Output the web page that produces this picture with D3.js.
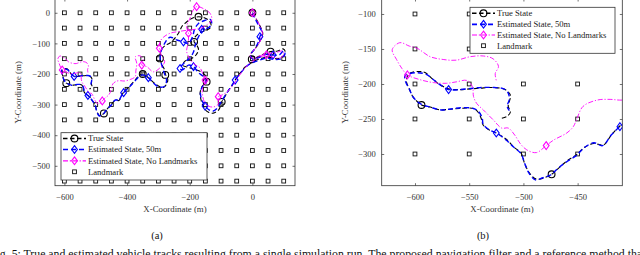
<!DOCTYPE html>
<html>
<head>
<meta charset="utf-8">
<script src="https://cdn.jsdelivr.net/npm/d3@7"></script>
<style>
  body { margin: 0; background: #fff; }
  svg { display: block; }
  text { font-family: "Liberation Serif", "DejaVu Serif", serif; }
</style>
</head>
<body>
<svg id="chart" width="640" height="255"></svg>
<script>
// landmark grid (m)
const landmarkX = [-600, -550, -500, -450, -400, -350, -300, -250, -200, -150, -100, -50, 0, 50, 100]
const landmarkY = [0, -50, -100, -150, -200, -250, -300, -350, -400, -450, -500, -550]

// tracks, [x, y] in metres
const trueTrack = [
  [0, 0], [12, -20], [25, -45], [33, -67], [28, -85], [20, -100], [8, -118], [-5, -135], [0, -150],
  [20, -143], [40, -133], [58, -127], [80, -125], [98, -118], [105, -128], [95, -145], [75, -150], [50, -145], [25, -150], [5, -158],
  [-10, -168], [-24, -178], [-35, -192], [-45, -205], [-55, -220], [-62, -233], [-72, -248], [-82, -263], [-90, -278], [-98, -291],
  [-102, -305], [-108, -318], [-125, -328], [-140, -325], [-152, -315], [-160, -298], [-165, -280], [-167, -262], [-160, -240], [-146, -225],
  [-150, -205], [-165, -192], [-185, -185], [-205, -178], [-222, -172], [-215, -158], [-195, -150], [-180, -138], [-172, -120], [-178, -105], [-186, -95],
  [-182, -78], [-165, -64], [-146, -57], [-132, -45], [-136, -28], [-152, -17], [-172, -13],
  [-192, -18], [-210, -30], [-225, -45], [-232, -60], [-245, -80], [-262, -98], [-280, -108], [-292, -125], [-295, -149],
  [-288, -170], [-280, -188], [-277, -202], [-270, -218], [-273, -231], [-284, -244], [-305, -236], [-332, -212], [-350, -200],
  [-362, -205], [-374, -220], [-392, -240], [-411, -260], [-419, -273], [-426, -287], [-435, -285], [-443, -290], [-451, -301], [-459, -309], [-466, -318], [-474, -329],
  [-479, -333], [-488, -336], [-494, -328], [-499, -313], [-502, -299], [-509, -290], [-515, -280], [-525, -270], [-531, -266], [-537, -259], [-539, -249], [-542, -240], [-546, -235],
  [-559, -235], [-568, -236], [-577, -237], [-586, -233], [-594, -230], [-598, -225], [-602, -218], [-605, -208], [-608, -195], [-605, -185],
  [-592, -183], [-583, -194], [-577, -201], [-569, -207], [-558, -208], [-549, -207], [-540, -206], [-528, -205], [-517, -208], [-512, -216],
  [-514, -232], [-512, -240], [-515, -246], [-520, -249]
]

const est50Track = [
  [0, 0], [10, -22], [22, -45], [30, -62], [24, -78], [18, -98], [6, -120], [-6, -138], [2, -152],
  [22, -146], [45, -136], [66, -138], [85, -138], [100, -124], [104, -134], [92, -150], [70, -153], [45, -148], [20, -156], [0, -163],
  [-15, -172], [-28, -185], [-40, -200], [-55, -220], [-66, -238], [-78, -256], [-90, -275], [-102, -295], [-112, -312], [-128, -322],
  [-151, -305], [-160, -288], [-166, -262], [-160, -242], [-148, -230],
  [-155, -210], [-172, -196], [-188, -176], [-204, -171], [-222, -186], [-231, -182], [-218, -164], [-200, -148], [-188, -128], [-182, -105],
  [-175, -85], [-165, -64], [-162, -54], [-142, -50], [-130, -36], [-134, -22], [-155, -26], [-172, -35], [-185, -55], [-190, -75],
  [-204, -100], [-220, -95], [-241, -89], [-263, -80], [-280, -100], [-292, -128], [-294, -152], [-288, -175], [-281, -198], [-274, -220],
  [-280, -240], [-300, -242], [-321, -224], [-332, -212], [-352, -203], [-374, -222], [-392, -242], [-411, -261],
  [-419, -273], [-427, -288], [-435, -284], [-444, -291], [-451, -302], [-459, -310], [-467, -319], [-475, -330], [-482, -334], [-489, -337],
  [-495, -327], [-499, -313], [-502, -300], [-509, -290], [-516, -280], [-525, -270], [-531, -266], [-537, -258], [-538, -249], [-541, -240],
  [-546, -235], [-558, -234], [-568, -236], [-577, -237], [-586, -233], [-594, -229], [-598, -225], [-602, -218], [-605, -208], [-609, -195],
  [-609, -188], [-600, -184], [-590, -186], [-582, -195], [-576, -202], [-569, -208], [-558, -208], [-547, -206], [-538, -205], [-527, -205],
  [-518, -207], [-514, -213], [-513, -222], [-515, -232], [-513, -238]
]

const noLmTrack = [
  [0, 0], [15, -25], [28, -50], [32, -70], [25, -92], [15, -110], [0, -128], [-8, -140], [0, -148],
  [25, -140], [51, -133], [75, -130], [95, -125], [100, -135], [88, -148], [65, -145], [40, -140], [15, -150],
  [-5, -162], [-22, -178], [-38, -200], [-52, -222], [-68, -245], [-85, -262], [-100, -270], [-109, -274], [-108, -290], [-110, -300],
  [-125, -308], [-140, -305], [-151, -296], [-158, -275], [-160, -250], [-151, -220],
  [-157, -204], [-167, -180], [-185, -168], [-200, -150], [-210, -125], [-205, -100], [-204, -67], [-210, -45], [-200, -20], [-189, 9],
  [-178, 20], [-157, 14], [-135, -2], [-130, -24], [-146, -40], [-167, -51], [-190, -55], [-215, -58], [-240, -62], [-263, -67],
  [-284, -80], [-295, -95], [-297, -116], [-290, -140], [-280, -160], [-295, -180], [-316, -193], [-337, -176], [-353, -171], [-348, -155],
  [-358, -141], [-374, -144], [-369, -165], [-372, -190], [-374, -209], [-390, -218], [-409, -223], [-420, -222], [-432, -223], [-445, -232],
  [-451, -251], [-454, -261], [-460, -270], [-472, -280], [-479, -288], [-488, -298], [-497, -294], [-503, -285], [-508, -273], [-514, -263],
  [-520, -263], [-528, -251], [-537, -237], [-543, -228], [-546, -218], [-547, -204], [-552, -195], [-562, -197], [-571, -199], [-583, -198],
  [-595, -194], [-607, -187], [-612, -178], [-617, -165], [-621, -151], [-614, -141], [-605, -146], [-598, -149], [-586, -161], [-574, -165],
  [-562, -166], [-549, -161], [-537, -160], [-528, -164], [-523, -175], [-526, -185], [-525, -195]
]

// marker positions along each track
const trueMarks = [[0, 0], [-2, -152], [58, -127], [-98, -291], [-146, -225], [-186, -95], [-172, -13], [-295, -149], [-278, -203], [-350, -200], [-474, -329], [-594, -230]]
const est50Marks = [[24, -78], [66, -138], [-55, -220], [-151, -305], [-188, -176], [-231, -182], [-162, -54], [-220, -95], [-332, -212], [-411, -261], [-525, -270], [-569, -208]]
const noLmMarks = [[0, 0], [45, -137], [-109, -274], [-151, -220], [-178, 20], [-204, -67], [-297, -116], [-353, -171], [-479, -288], [-607, -187]]

const legendLabels = ['True State', 'Estimated State, 50m', 'Estimated State, No Landmarks', 'Landmark']

const xTicksA = [-600, -400, -200, 0]
const yTicksA = [0, -100, -200, -300, -400, -500]
const xTicksB = [-600, -550, -500, -450]
const yTicksB = [-100, -150, -200, -250, -300]

const series = [
  { track: trueTrack, marks: trueMarks, color: '#000', dash: '4.5,2.5', width: 1.1, marker: 'circle' },
  { track: est50Track, marks: est50Marks, color: '#0000ff', dash: '5,3', width: 1.4, marker: 'diamond' },
  { track: noLmTrack, marks: noLmMarks, color: '#ff00ff', dash: '5,1.8,1.2,1.8', width: 0.9, marker: 'diamond' }
]

const panels = [
  { id: 'a', xDomain: [-630, 136], yDomain: [-565, 45], left: 55, right: 295, top: -1, bottom: 185.7,
    xTicks: xTicksA, yTicks: yTicksA, yPad: 5, ylabX: 18, tag: '(a)', tagX: 157,
    legend: { x: 61, y: 132.7, w: 146, h: 47.3, rows: [138.5, 149.5, 160.8, 171.8] } },
  { id: 'b', xDomain: [-630.7, -408.8], yDomain: [-345.3, -78.6], left: 381.7, right: 622.3, top: -1, bottom: 185.7,
    xTicks: xTicksB, yTicks: yTicksB, yPad: 6, ylabX: 345, tag: '(b)', tagX: 483,
    legend: { x: 470, y: 7.3, w: 145, h: 46, rows: [13.3, 24.3, 35, 45.7] } }
]

const svg = d3.select('#chart')

const diamond = (cx, cy) => `M${cx},${cy - 3.9}L${cx + 2.9},${cy}L${cx},${cy + 3.9}L${cx - 2.9},${cy}Z`

const drawMarker = (g, kind, cx, cy, color) => {
  if (kind === 'circle') {
    g.append('circle').attr('cx', cx).attr('cy', cy).attr('r', 3.4)
      .attr('fill', 'none').attr('stroke', color).attr('stroke-width', 1.1)
  } else {
    g.append('path').attr('d', diamond(cx, cy))
      .attr('fill', 'none').attr('stroke', color).attr('stroke-width', 1.1)
  }
}

const buildPanel = p => {
  const x = d3.scaleLinear().domain(p.xDomain).range([p.left, p.right])
  const y = d3.scaleLinear().domain(p.yDomain).range([p.bottom, p.top])

  svg.append('clipPath').attr('id', `clip-${p.id}`)
    .append('rect')
    .attr('x', p.left).attr('y', p.top)
    .attr('width', p.right - p.left).attr('height', p.bottom - p.top)

  const g = svg.append('g').attr('clip-path', `url(#clip-${p.id})`)

  const grid = landmarkX.flatMap(lx => landmarkY.map(ly => [lx, ly]))
  g.selectAll('rect.lm').data(grid)
    .enter().append('rect')
    .attr('class', 'lm')
    .attr('x', d => x(d[0]) - 1.9)
    .attr('y', d => y(d[1]) - 1.9)
    .attr('width', 3.8)
    .attr('height', 3.8)
    .attr('fill', 'none')
    .attr('stroke', '#111')
    .attr('stroke-width', 0.9)

  const line = d3.line()
    .x(d => x(d[0]))
    .y(d => y(d[1]))
    .curve(d3.curveCatmullRom.alpha(0.5))

  series.forEach(s => {
    g.append('path')
      .attr('d', line(s.track))
      .attr('fill', 'none')
      .attr('stroke', s.color)
      .attr('stroke-width', s.width)
      .attr('stroke-dasharray', s.dash)
    s.marks.forEach(m => drawMarker(g, s.marker, x(m[0]), y(m[1]), s.color))
  })

  // frame with inward ticks on all sides
  const ax = svg.append('g').attr('class', 'axes')
  const tickStyle = sel => {
    sel.select('.domain').remove()
    sel.selectAll('line').attr('stroke', '#333').attr('stroke-width', 0.7)
    sel.selectAll('text').attr('fill', '#333').style('font-size', '8.5px')
      .style('font-family', '"Liberation Serif", serif')
  }
  ax.append('g').attr('transform', `translate(0,${p.bottom})`)
    .call(d3.axisBottom(x).tickValues(p.xTicks).tickSize(-2.5).tickPadding(8))
    .call(tickStyle)
  ax.append('g').attr('transform', `translate(0,${p.top})`)
    .call(d3.axisTop(x).tickValues(p.xTicks).tickSize(-2.5).tickFormat(''))
    .call(tickStyle)
  ax.append('g').attr('transform', `translate(${p.left},0)`)
    .call(d3.axisLeft(y).tickValues(p.yTicks).tickSize(-2.5).tickPadding(p.yPad))
    .call(tickStyle)
  ax.append('g').attr('transform', `translate(${p.right},0)`)
    .call(d3.axisRight(y).tickValues(p.yTicks).tickSize(-2.5).tickFormat(''))
    .call(tickStyle)

  ax.append('rect')
    .attr('x', p.left).attr('y', p.top)
    .attr('width', p.right - p.left).attr('height', p.bottom - p.top)
    .attr('fill', 'none').attr('stroke', '#333').attr('stroke-width', 0.8)

  const cx = (p.left + p.right) / 2
  svg.append('text')
    .attr('x', cx).attr('y', 212)
    .attr('text-anchor', 'middle')
    .style('font-size', '8.8px').attr('fill', '#333')
    .text('X-Coordinate (m)')
  svg.append('text')
    .attr('transform', `translate(${p.ylabX},${(p.top + p.bottom) / 2}) rotate(-90)`)
    .attr('text-anchor', 'middle')
    .attr('dy', '0.35em')
    .style('font-size', '8.8px').attr('fill', '#333')
    .text('Y-Coordinate (m)')
  svg.append('text')
    .attr('x', p.tagX).attr('y', 238.5)
    .attr('text-anchor', 'middle')
    .style('font-size', '10.5px').attr('fill', '#111')
    .text(p.tag)

  // legend
  const lg = p.legend
  const leg = svg.append('g')
  leg.append('rect')
    .attr('x', lg.x).attr('y', lg.y).attr('width', lg.w).attr('height', lg.h)
    .attr('fill', '#fff').attr('stroke', '#333').attr('stroke-width', 0.8)
  legendLabels.forEach((label, i) => {
    const ry = lg.rows[i]
    const s = series[i]
    if (s) {
      leg.append('line')
        .attr('x1', lg.x + 2).attr('x2', lg.x + 25)
        .attr('y1', ry).attr('y2', ry)
        .attr('stroke', s.color).attr('stroke-width', s.width + 0.3)
        .attr('stroke-dasharray', s.dash)
      drawMarker(leg, s.marker, lg.x + 13.5, ry, s.color)
    } else {
      leg.append('rect')
        .attr('x', lg.x + 11.6).attr('y', ry - 1.9)
        .attr('width', 3.8).attr('height', 3.8)
        .attr('fill', 'none').attr('stroke', '#111').attr('stroke-width', 0.9)
    }
    leg.append('text')
      .attr('x', lg.x + 27).attr('y', ry)
      .attr('dy', '0.33em')
      .style('font-size', '8.6px').attr('fill', '#222')
      .text(label)
  })
}

panels.forEach(buildPanel)

// figure caption, cut by the bottom and side edges as in the source
svg.append('text')
  .attr('x', -10).attr('y', 258)
  .style('font-size', '11.8px').attr('fill', '#111')
  .text('Fig. 5: True and estimated vehicle tracks resulting from a single simulation run. The proposed navigation filter and a reference method that uses no landmarks are compared.')
</script>
</body>
</html>
